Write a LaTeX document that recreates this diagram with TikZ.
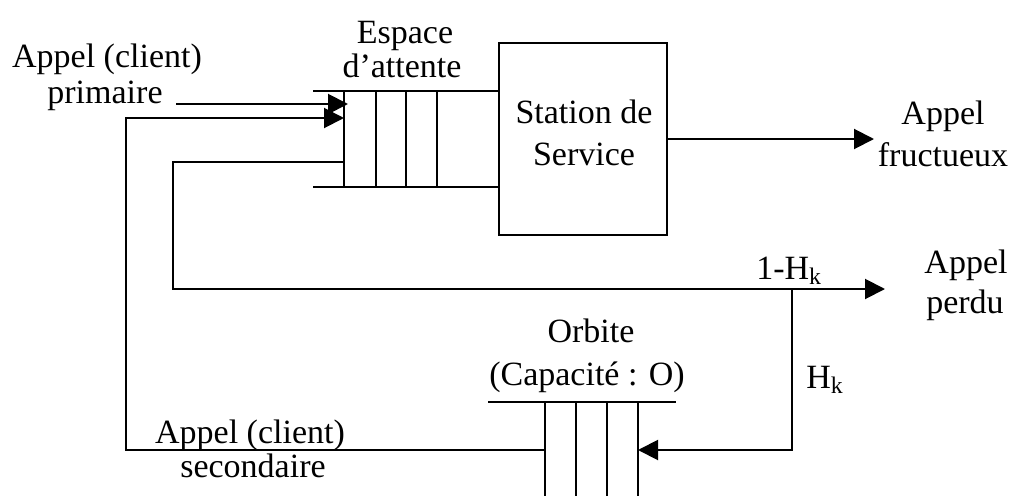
\documentclass[tikz,border=0pt]{standalone}
\usepackage{fontspec}
\setmainfont{Liberation Serif}
\usetikzlibrary{arrows.meta}

\tikzset{
  wire/.style={line width=1.5pt, line join=miter},
  flow/.style={wire, -{Triangle[length=15pt,width=15pt]}},
  lbl/.style={inner sep=0pt, anchor=base, font=\fontsize{25.5pt}{30pt}\selectfont},
  stationbox/.style={draw, line width=1.5pt, inner sep=0pt,
    minimum width=126pt, minimum height=144pt},
}

\begin{document}
\begin{tikzpicture}[x=0.75pt, y=-0.75pt]
  \useasboundingbox (0,0) rectangle (1011,496);

  % service station
  \node[stationbox] (station) at (583,139) {};
  \node[lbl] (st1) at (584,123) {Station de};
  \node[lbl] (st2) at (584,165) {Service};

  % waiting space (queue in front of the station)
  \coordinate (wtl) at (313,91);
  \coordinate (wbl) at (313,187);
  \draw[wire] (wtl) -- (wtl -| station.west);
  \draw[wire] (wbl) -- (wbl -| station.west);
  \foreach \x in {344,376,406,437} \draw[wire] (\x,91) -- (\x,187);
  \node[lbl] (esp1) at (405,43) {Espace};
  \node[lbl] (esp2) at (402,77) {d’attente};

  % orbit queue
  \coordinate (otl) at (488,402);
  \coordinate (otr) at (676,402);
  \draw[wire] (otl) -- (otr);
  \foreach \x in {545,576,607,638} \draw[wire] (\x,402) -- (\x,497);
  \node[lbl] (orb1) at (591,342) {Orbite};
  \node[lbl] (orb2) at (587,385) {(Capacité : O)};

  % primary calls
  \node[lbl] (prim1) at (107,67) {Appel (client)};
  \node[lbl] (prim2) at (105,103) {primaire};
  \coordinate (pstart) at (176,104);
  \coordinate (pend) at (348,104);
  \draw[flow] (pstart) -- (pend);

  % secondary calls coming back from the orbit
  \coordinate (sstart) at (544,450);
  \coordinate (scorner1) at (126,450);
  \coordinate (scorner2) at (126,118);
  \coordinate (send) at (344,118);
  \draw[flow] (sstart) -- (scorner1) -- (scorner2) -- (send);
  \node[lbl] (sec1) at (250,443) {Appel (client)};
  \node[lbl] (sec2) at (253,477) {secondaire};

  % successful calls
  \node[lbl] (ok1) at (943,124) {Appel};
  \node[lbl] (ok2) at (943,166) {fructueux};
  \coordinate (okend) at (874,139);
  \draw[flow] (station.east |- okend) -- (okend);

  % blocked calls: lost or sent to the orbit
  \coordinate (bstart) at (344,162);
  \coordinate (bcorner1) at (173,162);
  \coordinate (bcorner2) at (173,289);
  \coordinate (lostend) at (885,289);
  \draw[flow] (bstart) -- (bcorner1) -- (bcorner2) -- (lostend);
  \node[lbl] (lost1) at (966,273) {Appel};
  \node[lbl] (lost2) at (965,313) {perdu};
  \node[lbl] (p1) at (789,279) {1-H\textsubscript{k}};

  \coordinate (split) at (792,289);
  \coordinate (scorner) at (792,450);
  \coordinate (oend) at (638,450);
  \draw[flow] (split) -- (scorner) -- (oend);
  \node[lbl, anchor=base west] (p2) at (806,388) {H\textsubscript{k}};
\end{tikzpicture}
\end{document}
